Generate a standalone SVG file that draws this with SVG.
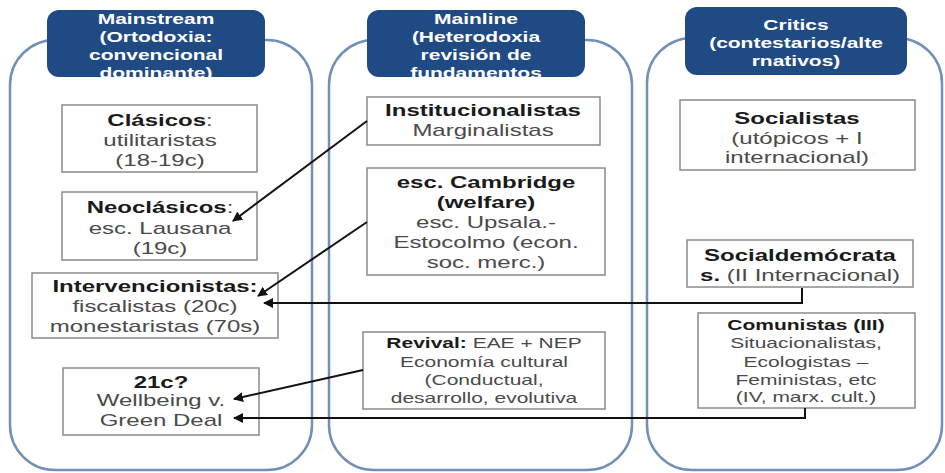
<svg xmlns="http://www.w3.org/2000/svg" width="945" height="473" viewBox="0 0 945 473">
<style>
.cont{fill:#fff;stroke:#7190b8;stroke-width:2.5}
.hdr{fill:#1f4a84}
.ht{font-family:"Liberation Sans",Arial,sans-serif;font-size:14px;font-weight:bold;fill:#fff;text-anchor:middle}
.box{fill:#fff;stroke:#8a8a8a;stroke-width:1.5}
.t{font-family:"Liberation Sans",Arial,sans-serif;font-size:16px;fill:#4a4a4a;text-anchor:middle}
.s{font-size:14px}
.b{font-weight:bold;fill:#1a1a1a}
.con{fill:none;stroke:#111;stroke-width:2}
</style>
<defs>
<marker id="ah" viewBox="0 0 10 10" refX="9" refY="5" markerWidth="5" markerHeight="5" orient="auto" markerUnits="strokeWidth">
<path d="M0,0 L10,5 L0,10 z" fill="#111"/>
</marker>
</defs>
<rect width="945" height="473" fill="#fff"/>

<g id="col-mainstream">
<rect class="cont" x="10" y="40" width="302" height="430" rx="45"/>
<rect class="hdr" x="47" y="10" width="218" height="67" rx="12"/>
<g transform="translate(156,0) scale(1.5,1)">
<text class="ht" x="0" y="24">Mainstream</text>
<text class="ht" x="0" y="42">(Ortodoxia:</text>
<text class="ht" x="0" y="60">convencional</text>
<text class="ht" x="0" y="78">dominante)</text>
</g>
</g>

<g id="col-mainline">
<rect class="cont" x="329" y="40" width="303" height="430" rx="45"/>
<rect class="hdr" x="367" y="10" width="218" height="67" rx="12"/>
<g transform="translate(476,0) scale(1.5,1)">
<text class="ht" x="0" y="24">Mainline</text>
<text class="ht" x="0" y="42">(Heterodoxia</text>
<text class="ht" x="0" y="60">revisión de</text>
<text class="ht" x="0" y="78">fundamentos</text>
</g>
</g>

<g id="col-critics">
<rect class="cont" x="647" y="38" width="295" height="432" rx="45"/>
<rect class="hdr" x="685" y="7" width="222" height="68" rx="12"/>
<g transform="translate(796,0) scale(1.5,1)">
<text class="ht" x="0" y="30">Critics</text>
<text class="ht" x="0" y="48">(contestarios/alte</text>
<text class="ht" x="0" y="66">rnativos)</text>
</g>
</g>

<g id="clasicos">
<rect class="box" x="62" y="105" width="195" height="67"/>
<g transform="translate(160,0) scale(1.5,1)">
<text class="t" x="0" y="126"><tspan class="b">Clásicos</tspan>:</text>
<text class="t" x="0" y="146">utilitaristas</text>
<text class="t" x="0" y="166">(18-19c)</text>
</g>
</g>

<g id="neoclasicos">
<rect class="box" x="62" y="192" width="195" height="68"/>
<g transform="translate(160,0) scale(1.5,1)">
<text class="t" x="0" y="213"><tspan class="b">Neoclásicos</tspan>:</text>
<text class="t" x="0" y="234">esc. Lausana</text>
<text class="t" x="0" y="254">(19c)</text>
</g>
</g>

<g id="intervencionistas">
<rect class="box" x="32" y="273" width="246" height="65"/>
<g transform="translate(155,0) scale(1.5,1)">
<text class="t b" x="0" y="292">Intervencionistas:</text>
<text class="t" x="0" y="312">fiscalistas (20c)</text>
<text class="t" x="0" y="332">monestaristas (70s)</text>
</g>
</g>

<g id="c21">
<rect class="box" x="63" y="368" width="196" height="67"/>
<g transform="translate(161,0) scale(1.5,1)">
<text class="t b" x="0" y="388">21c?</text>
<text class="t" x="0" y="406">Wellbeing v.</text>
<text class="t" x="0" y="426">Green Deal</text>
</g>
</g>

<g id="institucionalistas">
<rect class="box" x="367" y="97" width="233" height="48"/>
<g transform="translate(483,0) scale(1.5,1)">
<text class="t b" x="0" y="116">Institucionalistas</text>
<text class="t" x="0" y="136">Marginalistas</text>
</g>
</g>

<g id="cambridge">
<rect class="box" x="367" y="168" width="238" height="107"/>
<g transform="translate(486,0) scale(1.5,1)">
<text class="t b" x="0" y="188">esc. Cambridge</text>
<text class="t b" x="0" y="208">(welfare)</text>
<text class="t" x="0" y="228">esc. Upsala.-</text>
<text class="t" x="0" y="248">Estocolmo (econ.</text>
<text class="t" x="0" y="268">soc. merc.)</text>
</g>
</g>

<g id="revival">
<rect class="box" x="363" y="332" width="242" height="77"/>
<g transform="translate(484,0) scale(1.5,1)">
<text class="t s" x="0" y="348"><tspan class="b">Revival:</tspan> EAE + NEP</text>
<text class="t s" x="0" y="367">Economía cultural</text>
<text class="t s" x="0" y="385">(Conductual,</text>
<text class="t s" x="0" y="403">desarrollo, evolutiva</text>
</g>
</g>

<g id="socialistas">
<rect class="box" x="680" y="100" width="235" height="70"/>
<g transform="translate(797,0) scale(1.5,1)">
<text class="t b" x="0" y="124">Socialistas</text>
<text class="t" x="0" y="144">(utópicos + I</text>
<text class="t" x="0" y="163">internacional)</text>
</g>
</g>

<g id="socialdemocratas">
<rect class="box" x="687" y="240" width="226" height="47"/>
<g transform="translate(800,0) scale(1.5,1)">
<text class="t b" x="0" y="261">Socialdemócrata</text>
<text class="t" x="0" y="281"><tspan class="b">s.</tspan> (II Internacional)</text>
</g>
</g>

<g id="comunistas">
<rect class="box" x="698" y="313" width="217" height="95"/>
<g transform="translate(806,0) scale(1.5,1)">
<text class="t s b" x="0" y="330">Comunistas (III)</text>
<text class="t s" x="0" y="348">Situacionalistas,</text>
<text class="t s" x="0" y="367">Ecologistas –</text>
<text class="t s" x="0" y="385">Feministas, etc</text>
<text class="t s" x="0" y="402">(IV, marx. cult.)</text>
</g>
</g>

<g id="connectors">
<path class="con" marker-end="url(#ah)" d="M367,121 L233,221"/>
<path class="con" marker-end="url(#ah)" d="M367,222 L258,296"/>
<path class="con" marker-end="url(#ah)" d="M802,288 L802,303 L264,303"/>
<path class="con" marker-end="url(#ah)" d="M363,370 L234,399"/>
<path class="con" marker-end="url(#ah)" d="M805,408 L805,418 L234,418"/>
</g>
</svg>
